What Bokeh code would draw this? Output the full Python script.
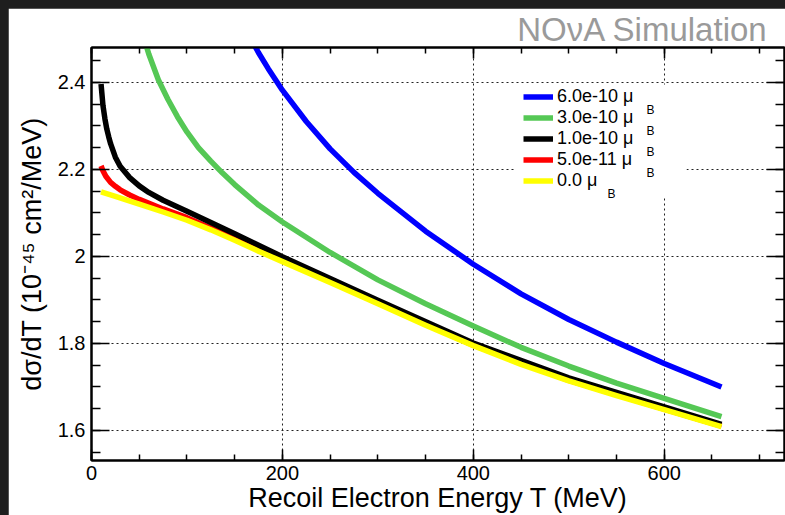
import numpy as np
from bokeh.plotting import figure
from bokeh.models import (Range1d, LinearAxis, FixedTicker, CustomJSTickFormatter,
                          Legend, LegendItem, Label, BoxAnnotation)
from bokeh.layouts import column
from bokeh.embed import file_html
from bokeh.resources import INLINE

# Recoil electron energy T (MeV) and dsigma/dT (1e-45 cm^2/MeV) per magnetic moment
t_mu_6e10 = [168, 175, 185, 200, 225, 250, 275, 300, 350, 400, 450, 500, 550, 600, 660]
xs_mu_6e10 = [2.496, 2.468, 2.432, 2.382, 2.310, 2.247, 2.193, 2.145, 2.058, 1.982, 1.914,
              1.855, 1.803, 1.754, 1.700]

t_mu_3e10 = [56, 60, 70, 80, 90, 100, 112, 125, 137, 150, 175, 200, 250, 300, 350, 400, 450,
             500, 550, 600, 660]
xs_mu_3e10 = [2.494, 2.465, 2.406, 2.361, 2.321, 2.286, 2.250, 2.219, 2.192, 2.165, 2.118,
              2.079, 2.009, 1.946, 1.891, 1.840, 1.791, 1.748, 1.709, 1.674, 1.632]

t_mu_1e10 = [10, 12, 14, 16, 18, 20, 25, 30, 40, 50, 60, 75, 100, 125, 150, 200, 250, 300,
             400, 500, 600, 660]
xs_mu_1e10 = [2.396, 2.347, 2.317, 2.293, 2.275, 2.259, 2.228, 2.207, 2.181, 2.162, 2.147,
              2.129, 2.104, 2.078, 2.052, 1.999, 1.949, 1.899, 1.801, 1.721, 1.654, 1.614]

t_mu_5e11 = [10, 12, 15, 20, 25, 30, 40, 50, 75, 100, 150, 200, 300, 400, 500, 600, 660]
xs_mu_5e11 = [2.208, 2.197, 2.184, 2.170, 2.161, 2.153, 2.141, 2.131, 2.109, 2.089, 2.041,
              1.991, 1.893, 1.796, 1.715, 1.649, 1.610]

t_mu_0 = [10, 25, 50, 75, 100, 125, 150, 175, 200, 250, 300, 350, 400, 450, 500, 550, 600, 660]
xs_mu_0 = [2.148, 2.138, 2.120, 2.102, 2.083, 2.061, 2.037, 2.012, 1.988, 1.940, 1.891,
           1.842, 1.795, 1.752, 1.714, 1.680, 1.648, 1.609]

series_labels = ["6.0e-10 μ", "3.0e-10 μ", "1.0e-10 μ", "5.0e-11 μ", "0.0 μ"]
series_colors = ["#0000ff", "#55c855", "#000000", "#ff0000", "#ffff00"]

x_ticks = [0, 200, 400, 600]
y_ticks = [1.6, 1.8, 2.0, 2.2, 2.4]
y_tick_labels = ["1.6", "1.8", "2", "2.2", "2.4"]

FONT = "Liberation Sans"

p = figure(width=777, height=507, x_range=Range1d(0, 726), y_range=Range1d(1.531, 2.48),
           output_backend="svg", toolbar_location=None,
           min_border_left=83, min_border_right=1, min_border_top=39, min_border_bottom=55)
p.background_fill_color = "white"
p.border_fill_color = "white"
p.outline_line_color = "black"
p.outline_line_width = 2

p.title.text = "NOνA Simulation"
p.title.align = "right"
p.title.text_font = FONT
p.title.text_font_size = "33px"
p.title.text_font_style = "normal"
p.title.text_color = "#9a9a9a"
p.title.standoff = 0
p.title.offset = 16

# curves: drawn so the zero-moment line sits on top
data = {
    0: (t_mu_6e10, xs_mu_6e10),
    1: (t_mu_3e10, xs_mu_3e10),
    2: (t_mu_1e10, xs_mu_1e10),
    3: (t_mu_5e11, xs_mu_5e11),
    4: (t_mu_0, xs_mu_0),
}
renderers = {}
for i in [0, 1, 3, 2, 4]:
    t, xs = data[i]
    renderers[i] = p.line(t, xs, line_color=series_colors[i], line_width=5.5,
                          line_join="round", line_cap="butt")

x_minor = list(np.arange(0, 751, 50))
y_minor = list(np.round(np.arange(1.5, 2.51, 0.05), 2))
xticker = FixedTicker(ticks=x_ticks, minor_ticks=x_minor)
yticker = FixedTicker(ticks=y_ticks, minor_ticks=y_minor)

blank = CustomJSTickFormatter(code="return ''")

def style_axis(ax, major, minor):
    ax.axis_line_width = 2
    ax.axis_line_color = "black"
    ax.major_tick_in = major
    ax.major_tick_out = 0
    ax.minor_tick_in = minor
    ax.minor_tick_out = 0
    ax.major_tick_line_width = 1.5
    ax.minor_tick_line_width = 1.5
    ax.major_tick_line_color = "black"
    ax.minor_tick_line_color = "black"
    ax.major_label_text_font = FONT
    ax.major_label_text_font_size = "20px"
    ax.major_label_text_color = "black"
    ax.axis_label_text_font = FONT
    ax.axis_label_text_font_size = "27px"
    ax.axis_label_text_font_style = "normal"
    ax.axis_label_text_color = "black"

xa = p.xaxis[0]
xa.ticker = xticker
xa.axis_label = "Recoil Electron Energy T (MeV)"
xa.major_label_standoff = 5
xa.axis_label_standoff = 0
style_axis(xa, 11, 6)

ya = p.yaxis[0]
ya.ticker = yticker
ya.major_label_overrides = dict(zip(y_ticks, y_tick_labels))
ya.axis_label = "dσ/dT (10⁻⁴⁵ cm²/MeV)"
ya.major_label_standoff = 6
ya.axis_label_standoff = 8
style_axis(ya, 18, 9)

top = LinearAxis(ticker=xticker, formatter=blank, major_label_standoff=0)
style_axis(top, 11, 6)
p.add_layout(top, "above")
right = LinearAxis(ticker=yticker, formatter=blank, major_label_standoff=0)
style_axis(right, 18, 9)
p.add_layout(right, "right")

p.xgrid.ticker = FixedTicker(ticks=x_ticks)
p.ygrid.ticker = FixedTicker(ticks=y_ticks)
for g in (p.xgrid, p.ygrid):
    g.grid_line_color = "#222222"
    g.grid_line_dash = "2 3"
    g.grid_line_width = 1

# white panel behind the legend block (frame-relative pixels)
p.add_layout(BoxAnnotation(left=424, right=595, bottom=263, top=376,
                           left_units="screen", right_units="screen",
                           bottom_units="screen", top_units="screen",
                           fill_color="white", fill_alpha=1, line_alpha=0,
                           level="underlay"))

legend = Legend(
    items=[LegendItem(label=series_labels[i], renderers=[renderers[i]]) for i in range(5)],
    location=(430, 267), orientation="vertical",
    glyph_width=30, glyph_height=21, label_height=21,
    label_standoff=4, spacing=0, padding=2, margin=0,
    border_line_alpha=0, background_fill_alpha=0,
    label_text_font=FONT, label_text_font_size="18px", label_text_color="black",
)
p.add_layout(legend)

# subscript "B" beside each mu in the legend
b_x = [559, 559, 559, 559, 520]
for i in range(5):
    p.add_layout(Label(x=b_x[i], y=460 - (96 + 21 * i + 13), x_units="screen", y_units="screen",
                       text="B", text_font=FONT, text_font_size="12px", text_color="black",
                       text_align="center", text_baseline="middle", level="overlay"))

page = column(p, styles={"background-color": "#1e1e1e", "padding": "8px 0 0 8px"})
open("out.html", "w").write(file_html(page, INLINE))
